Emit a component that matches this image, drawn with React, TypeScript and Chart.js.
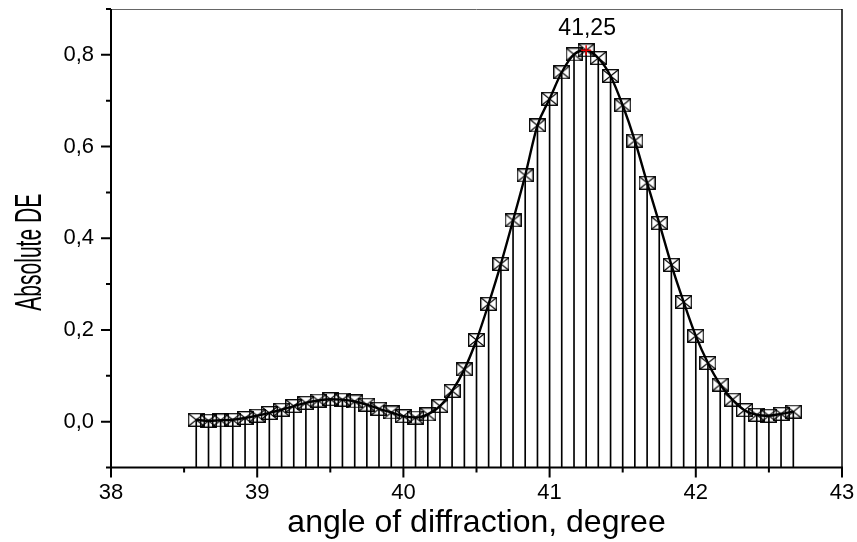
import React, { useEffect, useRef } from 'react';
import { Chart, registerables } from 'chart.js';

Chart.register(...registerables);

// Diffraction angles (degrees), 5' steps
const angles = [
  38.583, 38.667, 38.75, 38.833, 38.917, 39.0, 39.083, 39.167, 39.25, 39.333,
  39.417, 39.5, 39.583, 39.667, 39.75, 39.833, 39.917, 40.0, 40.083, 40.167,
  40.25, 40.333, 40.417, 40.5, 40.583, 40.667, 40.75, 40.833, 40.917, 41.0,
  41.083, 41.167, 41.25, 41.333, 41.417, 41.5, 41.583, 41.667, 41.75, 41.833,
  41.917, 42.0, 42.083, 42.167, 42.25, 42.333, 42.417, 42.5, 42.583, 42.667,
];

// Absolute diffraction efficiency
const absoluteDE = [
  0.004, 0.002, 0.003, 0.004, 0.008, 0.013, 0.019, 0.026, 0.034, 0.041,
  0.046, 0.049, 0.048, 0.044, 0.037, 0.028, 0.02, 0.012, 0.009, 0.016,
  0.034, 0.067, 0.114, 0.178, 0.257, 0.344, 0.439, 0.537, 0.646, 0.704,
  0.762, 0.801, 0.81, 0.793, 0.754, 0.69, 0.613, 0.521, 0.433, 0.342,
  0.261, 0.187, 0.128, 0.081, 0.048, 0.025, 0.015, 0.013, 0.017, 0.022,
];

const peakAngle = 41.25;
const peakValue = 0.81;
const peakLabel = '41,25';

const xMajorTicks = [38, 39, 40, 41, 42, 43];
const xTickLabels = ['38', '39', '40', '41', '42', '43'];
const xMinorTicks = [38.5, 39.5, 40.5, 41.5, 42.5];
const yMajorTicks = [0, 0.2, 0.4, 0.6, 0.8];
const yTickLabels = ['0,0', '0,2', '0,4', '0,6', '0,8'];
const yMinorTicks = [-0.1, 0.1, 0.3, 0.5, 0.7, 0.9];

const xTitle = 'angle of diffraction, degree';
const yTitle = 'Absolute DE';

const FONT = '"Liberation Sans", Arial, Helvetica, sans-serif';

function makeMarker(): HTMLCanvasElement {
  const c = document.createElement('canvas');
  c.width = 17;
  c.height = 14;
  const g = c.getContext('2d')!;
  g.strokeStyle = '#000';
  g.lineWidth = 1.3;
  g.strokeRect(0.7, 0.7, 15.6, 12.6);
  g.beginPath();
  g.moveTo(0.7, 0.7);
  g.lineTo(16.3, 13.3);
  g.moveTo(16.3, 0.7);
  g.lineTo(0.7, 13.3);
  g.lineWidth = 1.1;
  g.stroke();
  return c;
}

const framePlugin = {
  id: 'frameTicks',
  afterDatasetsDraw(chart: any) {
    const { ctx, chartArea } = chart;
    const xs = chart.scales.x;
    const ys = chart.scales.y;
    const { left, right, top, bottom } = chartArea;
    ctx.save();
    // top & right thin lines
    ctx.strokeStyle = '#666';
    ctx.lineWidth = 1;
    ctx.beginPath();
    ctx.moveTo(left, top + 0.5);
    ctx.lineTo(right, top + 0.5);
    ctx.stroke();
    ctx.strokeStyle = '#000';
    ctx.lineWidth = 1.5;
    ctx.beginPath();
    ctx.moveTo(right, top);
    ctx.lineTo(right, bottom);
    ctx.stroke();
    // left & bottom axes
    ctx.lineWidth = 2;
    ctx.beginPath();
    ctx.moveTo(left, top);
    ctx.lineTo(left, bottom);
    ctx.moveTo(left - 1, bottom);
    ctx.lineTo(right + 1, bottom);
    ctx.stroke();
    // ticks
    ctx.lineWidth = 2;
    ctx.beginPath();
    for (const v of xMajorTicks) {
      const px = xs.getPixelForValue(v);
      ctx.moveTo(px, bottom);
      ctx.lineTo(px, bottom + 10);
    }
    for (const v of xMinorTicks) {
      const px = xs.getPixelForValue(v);
      ctx.moveTo(px, bottom);
      ctx.lineTo(px, bottom + 5);
    }
    for (const v of yMajorTicks) {
      const py = ys.getPixelForValue(v);
      ctx.moveTo(left, py);
      ctx.lineTo(left - 10, py);
    }
    for (const v of yMinorTicks) {
      const py = ys.getPixelForValue(v);
      ctx.moveTo(left, py);
      ctx.lineTo(left - 5, py);
    }
    ctx.stroke();

    // peak label
    const meta = chart.getDatasetMeta(3);
    const pt = meta.data[0];
    if (pt) {
      ctx.fillStyle = '#000';
      ctx.font = `23px ${FONT}`;
      ctx.textAlign = 'center';
      ctx.textBaseline = 'alphabetic';
      ctx.fillText(peakLabel, pt.x + 1, pt.y - 15);
    }

    // condensed y-axis title
    ctx.translate(41, (top + bottom) / 2 + 14);
    ctx.rotate(-Math.PI / 2);
    ctx.scale(0.585, 1);
    ctx.font = `36px ${FONT}`;
    ctx.textAlign = 'center';
    ctx.textBaseline = 'alphabetic';
    ctx.fillStyle = '#000';
    ctx.fillText(yTitle, 0, 0);
    ctx.restore();
  },
};

export default function App() {
  const ref = useRef<HTMLCanvasElement | null>(null);

  useEffect(() => {
    document.body.style.margin = '0';
    if (!ref.current) return;
    const marker = makeMarker();
    const pts = angles.map((a, i) => ({ x: a, y: absoluteDE[i] }));
    const stems = angles.map((a, i) => ({ x: a, y: [-0.1, absoluteDE[i]] }));

    const chart = new Chart(ref.current, {
      type: 'scatter',
      data: {
        datasets: [
          {
            type: 'bar',
            data: stems as any,
            backgroundColor: '#000',
            borderWidth: 0,
            barThickness: 1,
            grouped: false,
            order: 4,
          } as any,
          {
            type: 'line',
            data: pts,
            showLine: false,
            pointStyle: marker,
            pointRadius: 8,
            order: 3,
          } as any,
          {
            type: 'line',
            data: pts,
            borderColor: '#000',
            borderWidth: 2.4,
            pointRadius: 0,
            cubicInterpolationMode: 'monotone',
            fill: false,
            order: 2,
          } as any,
          {
            type: 'scatter',
            data: [{ x: peakAngle, y: peakValue }],
            pointStyle: 'cross',
            pointRadius: 5,
            borderColor: '#e00000',
            borderWidth: 1.5,
            order: 1,
          } as any,
        ],
      },
      options: {
        animation: false,
        responsive: false,
        maintainAspectRatio: false,
        events: [],
        layout: { padding: { top: 7, right: 15, left: 0, bottom: 0 } },
        plugins: {
          legend: { display: false },
          tooltip: { enabled: false },
        },
        scales: {
          x: {
            type: 'linear',
            min: 38,
            max: 43,
            offset: false,
            grid: { display: false, drawTicks: false, offset: false },
            border: { display: false },
            afterBuildTicks: (s: any) => {
              s.ticks = xMajorTicks.map((v) => ({ value: v }));
            },
            afterFit: (s: any) => {
              s.height = 74.5;
              s.paddingLeft = 0;
              s.paddingRight = 0;
              s.paddingTop = 0;
              s.paddingBottom = 0;
            },
            ticks: {
              autoSkip: false,
              maxRotation: 0,
              padding: 12,
              color: '#000',
              font: { family: FONT, size: 22 },
              callback: (_v: any, i: number) => xTickLabels[i],
            },
            title: {
              display: true,
              text: xTitle,
              color: '#000',
              font: { family: FONT, size: 32 },
              padding: { top: 0, bottom: 0 },
            },
          },
          y: {
            type: 'linear',
            min: -0.1,
            max: 0.9,
            grid: { display: false, drawTicks: false },
            border: { display: false },
            afterBuildTicks: (s: any) => {
              s.ticks = yMajorTicks.map((v) => ({ value: v }));
            },
            afterFit: (s: any) => {
              s.width = 111;
              s.paddingLeft = 0;
              s.paddingRight = 0;
              s.paddingTop = 0;
              s.paddingBottom = 0;
            },
            ticks: {
              autoSkip: false,
              padding: 17,
              color: '#000',
              font: { family: FONT, size: 22 },
              callback: (_v: any, i: number) => yTickLabels[i],
            },
          },
        },
      } as any,
      plugins: [framePlugin],
    });
    return () => chart.destroy();
  }, []);

  return (
    <div style={{ width: 857, height: 542, background: '#fff' }}>
      <canvas ref={ref} width={857} height={542} />
    </div>
  );
}
